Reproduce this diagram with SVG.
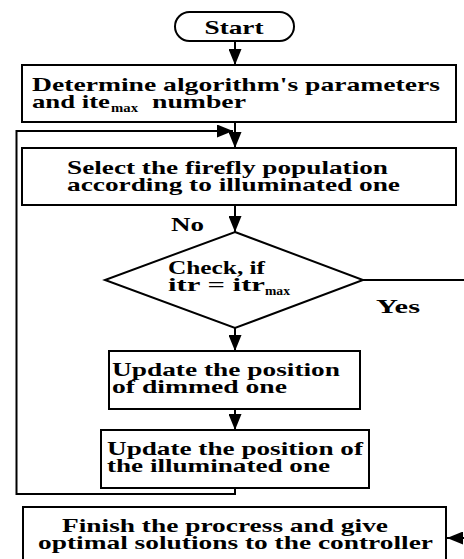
<svg xmlns="http://www.w3.org/2000/svg" width="464" height="559" viewBox="0 0 464 559">
<defs>
<style>
.b{fill:#fff;stroke:#000;stroke-width:2}
.c{fill:none;stroke:#000;stroke-width:2}
.t{font-family:"Liberation Serif","Times New Roman",serif;font-weight:bold;font-size:19.5px;fill:#000}
.s{font-size:12px}
</style>
<marker id="ah" markerWidth="16" markerHeight="13" refX="16" refY="6.5" orient="auto" markerUnits="userSpaceOnUse"><path d="M0,0 L16,6.5 L0,13 Z" fill="#000"/></marker>
</defs>
<rect width="464" height="559" fill="#fff"/>
<g id="connectors">
<line class="c" x1="235" y1="41" x2="235" y2="65" marker-end="url(#ah)"/>
<line class="c" x1="235" y1="122" x2="235" y2="148" marker-end="url(#ah)"/>
<line class="c" x1="235" y1="205" x2="235" y2="232" marker-end="url(#ah)"/>
<line class="c" x1="235" y1="328" x2="235" y2="351" marker-end="url(#ah)"/>
<line class="c" x1="235" y1="409" x2="235" y2="430" marker-end="url(#ah)"/>
<polyline class="c" points="235,488 235,494 16.5,494 16.5,131 233,131" marker-end="url(#ah)"/>
<line class="c" x1="363" y1="280" x2="464" y2="280"/>
<line class="c" x1="470" y1="538" x2="447" y2="538" marker-end="url(#ah)"/>
<text class="t" x="171" y="231" textLength="33" lengthAdjust="spacingAndGlyphs">No</text>
<text class="t" x="376" y="313" textLength="44" lengthAdjust="spacingAndGlyphs">Yes</text>
</g>
<g id="start">
<rect class="b" x="175" y="12" width="119" height="29" rx="14.5"/>
<text class="t" x="234" y="34" text-anchor="middle" textLength="59" lengthAdjust="spacingAndGlyphs">Start</text>
</g>
<g id="params">
<rect class="b" x="22" y="65" width="434" height="57"/>
<text class="t" x="32" y="91" textLength="408" lengthAdjust="spacingAndGlyphs">Determine algorithm's parameters</text>
<text class="t" x="32" y="108" textLength="78" lengthAdjust="spacingAndGlyphs">and ite</text>
<text class="t s" x="111" y="112" textLength="27" lengthAdjust="spacingAndGlyphs">max</text>
<text class="t" x="152" y="108" textLength="94" lengthAdjust="spacingAndGlyphs">number</text>
</g>
<g id="select">
<rect class="b" x="22" y="148" width="434" height="57"/>
<text class="t" x="67" y="174" textLength="321" lengthAdjust="spacingAndGlyphs">Select the firefly population</text>
<text class="t" x="67" y="191" textLength="333" lengthAdjust="spacingAndGlyphs">according to illuminated one</text>
</g>
<g id="check">
<polygon class="b" points="235,232 363,280 235,328 105,280"/>
<text class="t" x="168" y="274" textLength="97" lengthAdjust="spacingAndGlyphs">Check, if</text>
<text class="t" x="168" y="291" textLength="97" lengthAdjust="spacingAndGlyphs">itr = itr</text>
<text class="t s" x="265" y="295" textLength="25" lengthAdjust="spacingAndGlyphs">max</text>
</g>
<g id="dimmed">
<rect class="b" x="109" y="351" width="251" height="58"/>
<text class="t" x="112" y="376" textLength="228" lengthAdjust="spacingAndGlyphs">Update the position</text>
<text class="t" x="112" y="393" textLength="175" lengthAdjust="spacingAndGlyphs">of dimmed one</text>
</g>
<g id="illuminated">
<rect class="b" x="101" y="430" width="268" height="58"/>
<text class="t" x="107" y="455" textLength="256" lengthAdjust="spacingAndGlyphs">Update the position of</text>
<text class="t" x="107" y="472" textLength="223" lengthAdjust="spacingAndGlyphs">the illuminated one</text>
</g>
<g id="finish">
<rect class="b" x="23" y="507" width="423" height="60"/>
<text class="t" x="62" y="532" textLength="326" lengthAdjust="spacingAndGlyphs">Finish the procress and give</text>
<text class="t" x="38" y="549" textLength="395" lengthAdjust="spacingAndGlyphs">optimal solutions to the controller</text>
</g>
</svg>
